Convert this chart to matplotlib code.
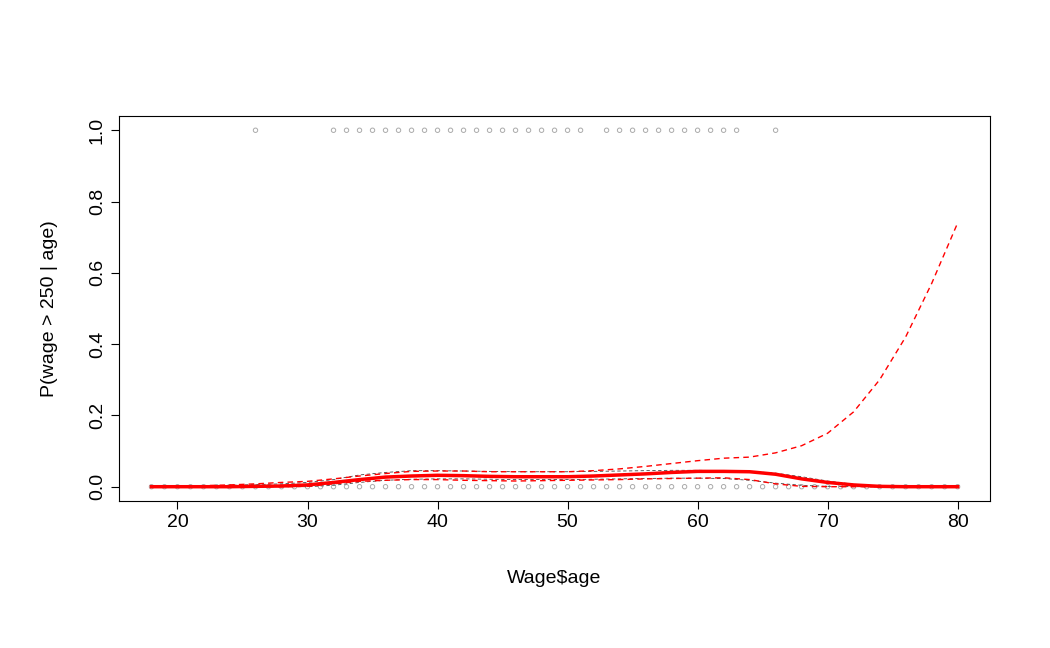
import matplotlib.pyplot as plt
import numpy as np

plt.rcParams['font.family'] = ['Liberation Sans', 'DejaVu Sans']

# datos
ages_hi = [26] + list(range(32, 52)) + list(range(53, 64)) + [66]
ages_lo = list(range(18, 81))

age_fit = [18, 20, 22, 24, 26, 28, 30, 32, 34, 36, 38, 40, 42, 44, 46, 48, 50, 52, 54, 56,
           58, 60, 62, 64, 66, 68, 70, 72, 74, 76, 78, 80]
fit = [0, 0, 0, 0, 0.001, 0.002, 0.005, 0.012, 0.02, 0.027, 0.03, 0.032, 0.031, 0.029, 0.028, 0.028,
       0.028, 0.03, 0.033, 0.036, 0.04, 0.043, 0.043, 0.042, 0.035, 0.022, 0.012, 0.005, 0.001, 0, 0, 0]
upper = [0, 0.001, 0.003, 0.005, 0.008, 0.012, 0.015, 0.022, 0.03, 0.037, 0.043, 0.044, 0.044, 0.042,
         0.042, 0.042, 0.042, 0.045, 0.05, 0.057, 0.065, 0.073, 0.08, 0.083, 0.095, 0.115, 0.15, 0.21,
         0.3, 0.42, 0.57, 0.74]
lower = [0, 0, 0, 0, 0, 0, 0.001, 0.008, 0.015, 0.018, 0.02, 0.02, 0.018, 0.017, 0.016, 0.017, 0.018,
         0.019, 0.02, 0.022, 0.023, 0.024, 0.025, 0.02, 0.008, 0.001, 0, 0, 0, 0, 0, 0]
upper_k = [0, 0, 0.002, 0.004, 0.006, 0.008, 0.012, 0.02, 0.033, 0.04, 0.045, 0.045, 0.044, 0.043,
           0.042, 0.042, 0.042, 0.043, 0.044, 0.045, 0.046, 0.046, 0.045, 0.043, 0.038, 0.028, 0.016, 0.007,
           0.002, 0, 0, 0]
lower_k = [0, 0, 0, 0, 0, 0, 0, 0.004, 0.012, 0.018, 0.021, 0.022, 0.022, 0.021, 0.02, 0.02, 0.02,
           0.021, 0.022, 0.023, 0.024, 0.024, 0.023, 0.018, 0.01, 0.004, 0.001, 0, 0, 0, 0, 0]

fig = plt.figure(figsize=(10.5, 6.48), dpi=100)
ax = fig.add_axes([0.1133, 0.2269, 0.8297, 0.5941])

ax.scatter(ages_hi, [1] * len(ages_hi), s=10, facecolors="none", edgecolors="#aaaaaa", linewidths=0.7)
ax.scatter(ages_lo, [0] * len(ages_lo), s=10, facecolors="none", edgecolors="#aaaaaa", linewidths=0.7)

ax.plot(age_fit, upper_k, color="#444444", linestyle="--", linewidth=0.6, dashes=(4, 3))
ax.plot(age_fit, lower_k, color="#444444", linestyle="--", linewidth=0.6, dashes=(4, 3))
ax.plot(age_fit, upper, color="red", linestyle="--", linewidth=1.0, dashes=(4, 3))
ax.plot(age_fit, lower, color="red", linestyle="--", linewidth=1.0, dashes=(4, 3))
ax.plot(age_fit, fit, color="red", linewidth=2.5)

ax.set_xlim(15.5, 82.5)
ax.set_ylim(-0.04, 1.04)
ax.set_xticks([20, 30, 40, 50, 60, 70, 80])
ax.set_yticks([0, 0.2, 0.4, 0.6, 0.8, 1.0])
ax.set_yticklabels(["0.0", "0.2", "0.4", "0.6", "0.8", "1.0"], rotation=90, va="center")
ax.tick_params(labelsize=14, length=6)
ax.set_xlabel("Wage$age", fontsize=14, labelpad=28)
ax.set_ylabel("P(wage > 250 | age)", fontsize=14, labelpad=22)

fig.savefig("out.png")
